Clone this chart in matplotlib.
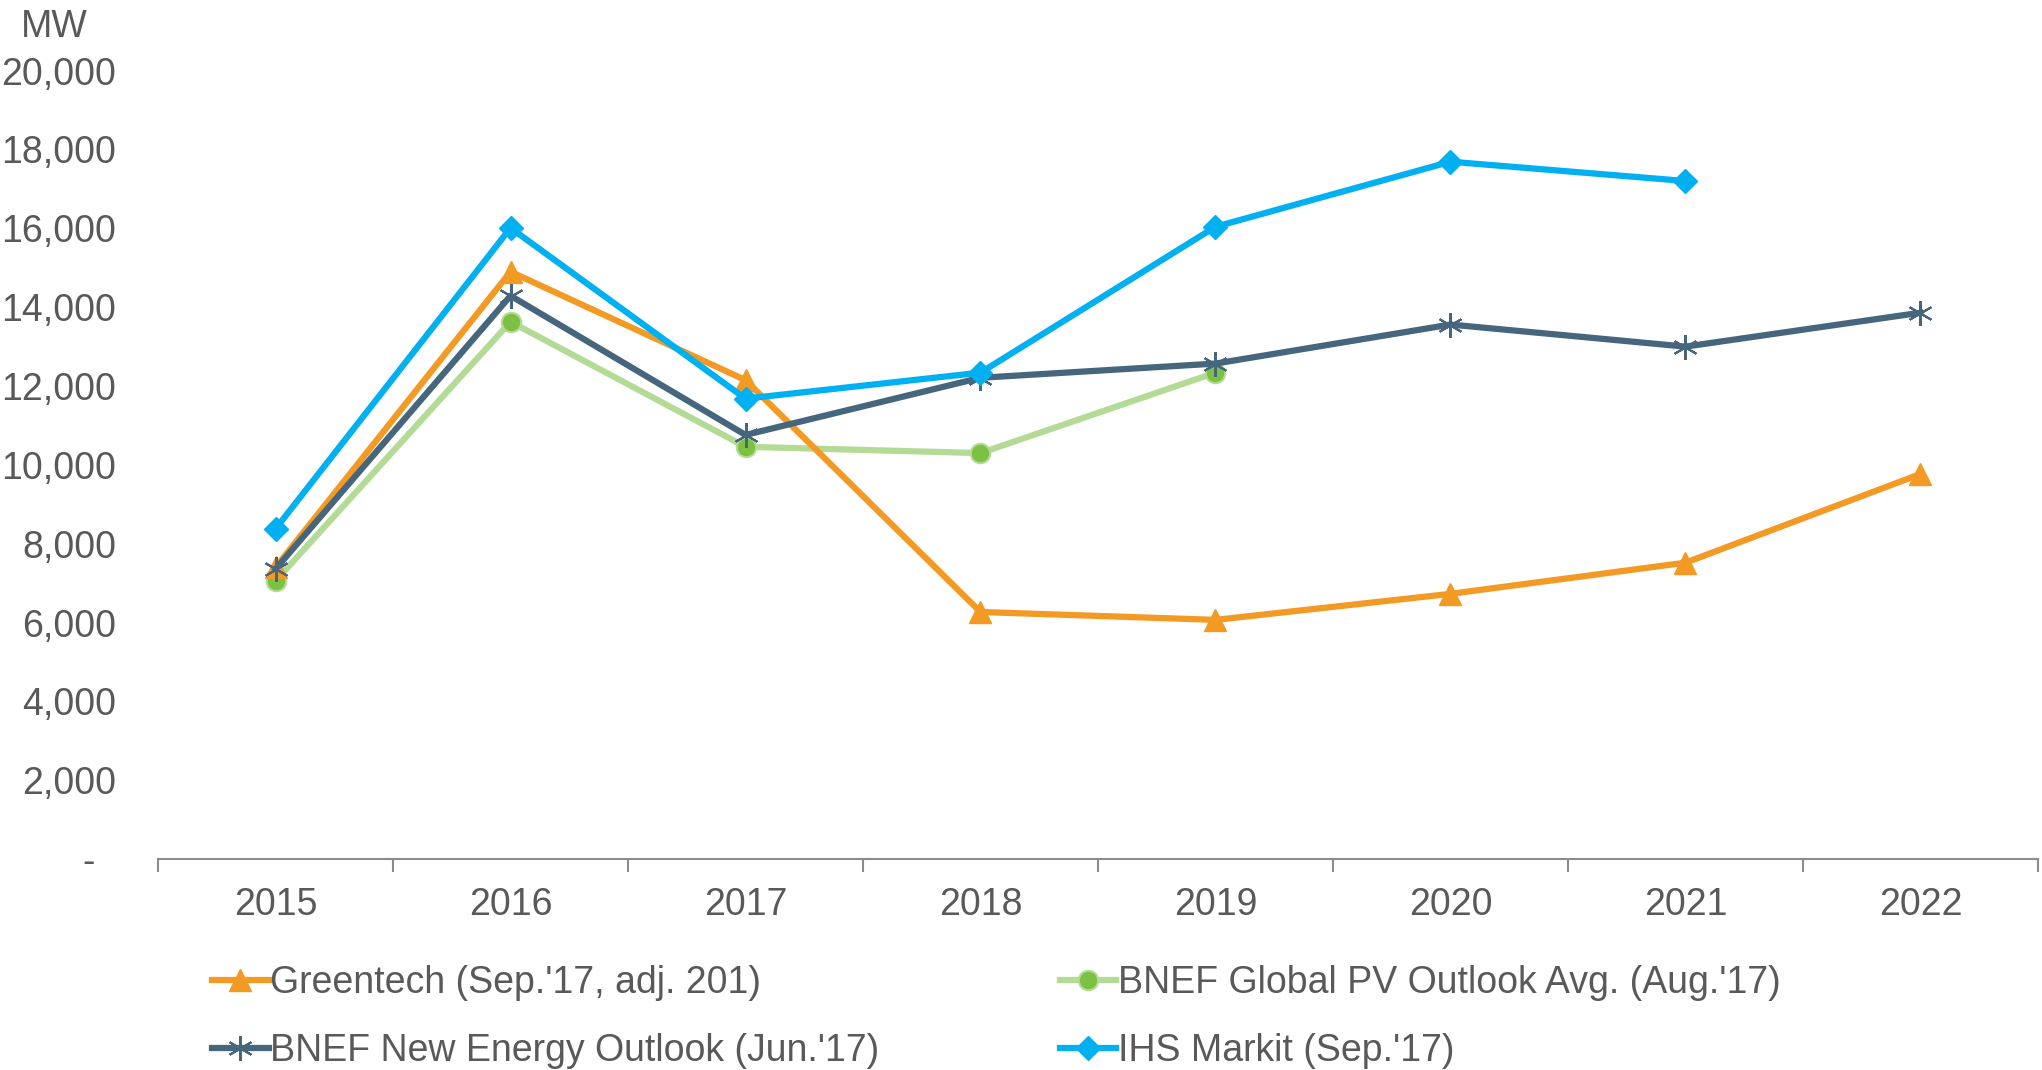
import matplotlib
matplotlib.use('Agg')
import matplotlib.pyplot as plt
from matplotlib.ticker import FuncFormatter

plt.rcParams['font.family'] = ['Liberation Sans', 'DejaVu Sans']

# data (MW)
years = ['2015', '2016', '2017', '2018', '2019', '2020', '2021', '2022']
greentech = [7400, 14900, 12150, 6270, 6070, 6730, 7520, 9770]
bnef_pv = [7060, 13630, 10460, 10300, 12340]
bnef_neo = [7360, 14290, 10760, 12210, 12570, 13560, 13000, 13860]
ihs = [8380, 16010, 11680, 12340, 16040, 17690, 17200]

text_col = '#595959'
fs = 27

fig = plt.figure(figsize=(20.42, 10.70), dpi=100)
ax = fig.add_axes([0.0774, 0.197, 0.9206, 0.737])

x = range(len(years))
l1, = ax.plot(x[:len(greentech)], greentech, color='#F29A24', lw=4.5, marker='^', ms=16,
              label="Greentech (Sep.'17, adj. 201)", clip_on=False, zorder=3)
l2, = ax.plot(x[:len(bnef_pv)], bnef_pv, color='#B4DB96', lw=4.5, marker='o', ms=14,
              mfc='#7DC143', mec='#B4DB96', mew=1.5,
              label="BNEF Global PV Outlook Avg. (Aug.'17)", clip_on=False, zorder=2)
l3, = ax.plot(x[:len(bnef_neo)], bnef_neo, color='#46667D', lw=4.5, marker=(6, 2, 0), ms=18,
              mew=1.5, label="BNEF New Energy Outlook (Jun.'17)", clip_on=False, zorder=3)
l4, = ax.plot(x[:len(ihs)], ihs, color='#00B0F0', lw=4.5, marker='D', ms=12,
              label="IHS Markit (Sep.'17)", clip_on=False, zorder=4)

ax.set_xlim(-0.5, len(years) - 0.5)
ax.set_ylim(0, 20000)
ax.set_yticks(range(0, 20001, 2000))
ax.yaxis.set_major_formatter(FuncFormatter(lambda v, p: '-  ' if v == 0 else f'{int(v):,}'))
ax.set_xticks(list(x))
ax.set_xticklabels(years)
ax.set_xticks([i - 0.5 for i in range(len(years) + 1)], minor=True)

for s in ['top', 'right', 'left']:
    ax.spines[s].set_visible(False)
ax.spines['bottom'].set_color('#8C8C8C')
ax.spines['bottom'].set_linewidth(1.5)

ax.tick_params(axis='y', length=0, pad=30, labelsize=fs, labelcolor=text_col)
ax.tick_params(axis='x', which='major', length=0, pad=20, labelsize=fs, labelcolor=text_col)
ax.tick_params(axis='x', which='minor', length=9, width=1.5, color='#8C8C8C', direction='out')

fig.text(0.010, 0.975, 'MW', fontsize=fs, color=text_col, va='center', ha='left')

# row-wise legend order: Greentech | PV  /  NEO | IHS
leg = fig.legend([l1, l3, l2, l4], [l.get_label() for l in (l1, l3, l2, l4)],
                 loc='upper left', bbox_to_anchor=(0.104, 0.098), ncol=2, frameon=False,
                 fontsize=fs, handlelength=1.5, handletextpad=0.05,
                 columnspacing=4.8, labelspacing=0.85, borderaxespad=0, borderpad=0)
for t in leg.get_texts():
    t.set_color(text_col)

fig.savefig('out.png', dpi=100)
